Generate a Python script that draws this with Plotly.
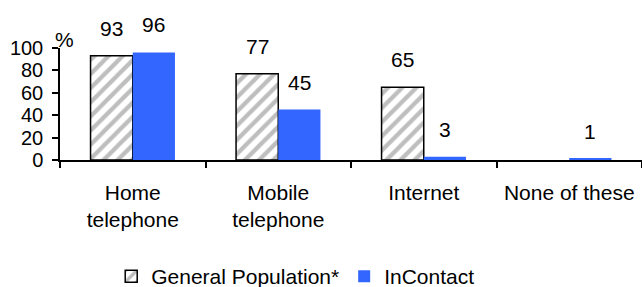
import plotly.graph_objects as go

categories = ["Home<br>telephone", "Mobile<br>telephone", "Internet", "None of these"]
general_population = [93, 77, 65, None]
incontact = [96, 45, 3, 1]
series_names = ["General Population*", "InContact"]
y_ticks = [0, 20, 40, 60, 80, 100]

W, H = 642, 287
ML, MR, MT, MB = 60, 0, 48, 127
BARGAP = 0.42
FONT = dict(family="Liberation Sans, Arial, sans-serif", size=21, color="#000")

fig = go.Figure()
fig.add_trace(go.Bar(
    x=categories, y=general_population, name=series_names[0],
    marker=dict(color="white", line=dict(color="black", width=1.5),
                pattern=dict(shape="/", fgcolor="#7d7d7d", bgcolor="white",
                             size=10, solidity=0.42)),
))
fig.add_trace(go.Bar(
    x=categories, y=incontact, name=series_names[1],
    marker=dict(color="#3366FF", line=dict(width=0)),
))

plot_w = W - ML - MR
cat_px = plot_w / len(categories)
bar_px = cat_px * (1 - BARGAP) / 2
for vals, sign in ((general_population, -1), (incontact, 1)):
    for c, v in zip(categories, vals):
        if v is None:
            continue
        fig.add_annotation(x=c, y=v, text=str(v), showarrow=False,
                           xref="x", yref="y", xanchor="center", yanchor="bottom",
                           xshift=sign * bar_px / 2, yshift=14, font=FONT)

fig.add_annotation(x=0, y=100, xref="paper", yref="y", text="%", showarrow=False,
                   xanchor="left", yanchor="bottom", xshift=-7, yshift=-5, font=FONT)

fig.update_layout(
    width=W, height=H,
    margin=dict(l=ML, r=MR, t=MT, b=MB, autoexpand=False),
    paper_bgcolor="white", plot_bgcolor="white",
    barmode="group", bargap=BARGAP, bargroupgap=0,
    font=FONT,
    showlegend=True,
    legend=dict(orientation="h", x=0.405, xanchor="center", y=-1.04, yanchor="middle",
                font=FONT, bgcolor="rgba(0,0,0,0)", itemclick=False),
    xaxis=dict(range=[-0.5, 3.5], showline=True, linecolor="black", linewidth=1.5,
               ticks="outside", tickson="boundaries", ticklen=6, tickwidth=1.5,
               tickcolor="black", showgrid=False, zeroline=False,
               tickfont=FONT, ticklabelstandoff=13),
    yaxis=dict(range=[0, 100], tickvals=y_ticks, showline=True, linecolor="black",
               linewidth=1.5, ticks="outside", ticklen=6, tickwidth=1.5,
               tickcolor="black", showgrid=False, zeroline=False,
               tickfont=dict(FONT, size=20), ticklabelstandoff=5),
)

fig.write_html("out.html", config={"displayModeBar": False},
               post_script="document.body.style.margin='0';")
